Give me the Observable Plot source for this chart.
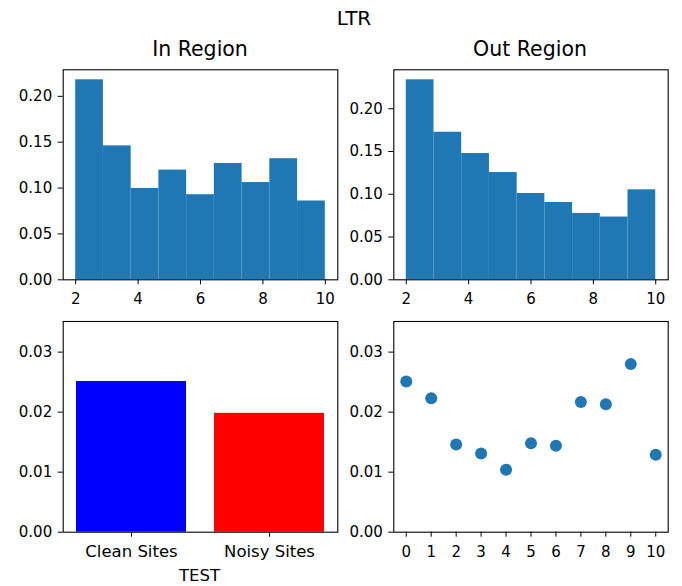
<!DOCTYPE html>
<html>
<head>
<meta charset="utf-8">
<script src="https://cdn.jsdelivr.net/npm/d3@7"></script>
<script src="https://cdn.jsdelivr.net/npm/@observablehq/plot@0.6"></script>
<style>
  html, body { margin: 0; padding: 0; background: #fff; }
  #fig { position: relative; width: 682px; height: 586px; background: #fff; overflow: hidden;
         font-family: "DejaVu Sans", sans-serif; color: #000; }
  .panel { position: absolute; }
  .ttl { position: absolute; white-space: nowrap; transform: translateX(-50%); line-height: 1; }
</style>
</head>
<body>
<div id="fig"></div>
<script>
// ---- data ----
const supTitle = "LTR";
const panelTitles = ["In Region", "Out Region"];
const xAxisLabel = "TEST";

const binEdges = [2, 2.889, 3.778, 4.667, 5.556, 6.444, 7.333, 8.222, 9.111, 10];
const inRegion = [0.218, 0.146, 0.0996, 0.1196, 0.0927, 0.1268, 0.106, 0.132, 0.0859];
const outRegion = [0.2338, 0.1725, 0.1476, 0.1254, 0.1009, 0.0904, 0.0776, 0.0734, 0.1052];
const histTicksX = [2, 4, 6, 8, 10];
const histTicksY = [0, 0.05, 0.10, 0.15, 0.20];

const siteCategories = ["Clean Sites", "Noisy Sites"];
const siteValues = [0.0251, 0.0198];
const siteColors = ["blue", "red"];

const scatterX = [0, 1, 2, 3, 4, 5, 6, 7, 8, 9, 10];
const scatterY = [0.0251, 0.0223, 0.0146, 0.0131, 0.0104, 0.0148, 0.0144, 0.0217, 0.0213, 0.0280, 0.0129];
const bottomTicksY = [0, 0.01, 0.02, 0.03];

// ---- layout helpers ----
const fig = document.getElementById("fig");
const blue = "#1f77b4";
const fmt = d3.format(".2f");

function place(node, left, top) {
  node.classList.add("panel");
  node.style.left = left + "px";
  node.style.top = top + "px";
  fig.appendChild(node);
}
function title(text, cx, top, size) {
  const d = document.createElement("div");
  d.className = "ttl";
  d.textContent = text;
  d.style.left = cx + "px";
  d.style.top = top + "px";
  d.style.fontSize = size + "px";
  fig.appendChild(d);
}

const baseStyle = { fontFamily: "DejaVu Sans, sans-serif", fontSize: "15px", color: "#000", background: "transparent", overflow: "visible" };

function hist(values, yMax, mLeft, mRight) {
  const rows = values.map((v, i) => ({ x1: binEdges[i], x2: binEdges[i + 1], y: v }));
  return Plot.plot({
    width: 341, height: 250,
    marginLeft: mLeft, marginRight: mRight, marginTop: 9.3, marginBottom: 30.7,
    style: baseStyle,
    x: { domain: [1.6, 10.4], ticks: histTicksX, tickSize: 5, tickPadding: 9, label: null },
    y: { domain: [0, yMax], ticks: histTicksY, tickFormat: fmt, tickSize: 5, tickPadding: 6, label: null },
    marks: [
      Plot.rectY(rows, { x1: "x1", x2: "x2", y: "y", fill: blue, inset: 0 }),
      Plot.frame({ stroke: "#000", strokeWidth: 1.1 })
    ]
  });
}

// top-left
place(hist(inRegion, 0.2289, 62.7, 3.7), 0, 60);
// top-right
place(hist(outRegion, 0.2455, 52.3, 14.3), 341, 60);

// bottom-left bars
const barRows = siteCategories.map((c, i) => ({ cat: c, v: siteValues[i], col: siteColors[i] }));
const bars = Plot.plot({
  width: 341, height: 250,
  marginLeft: 62.7, marginRight: 3.7, marginTop: 10, marginBottom: 29.3,
  style: baseStyle,
  x: { type: "band", domain: siteCategories, paddingInner: 0.2, paddingOuter: 0.09, align: 0.5,
       tickSize: 5, tickPadding: 8, label: null },
  y: { domain: [0, 0.0351], ticks: bottomTicksY, tickFormat: fmt, tickSize: 5, tickPadding: 6, label: null },
  marks: [
    Plot.barY(barRows, { x: "cat", y: "v", fill: d => d.col }),
    Plot.frame({ stroke: "#000", strokeWidth: 1.1 })
  ]
});
place(bars, 0, 311);
bars.querySelectorAll('[aria-label^="x-axis"] text').forEach(t => t.setAttribute("font-size", "16.5"));

// bottom-right scatter
const ptRows = scatterX.map((x, i) => ({ x, y: scatterY[i] }));
const sc = Plot.plot({
  width: 341, height: 250,
  marginLeft: 52.3, marginRight: 14.3, marginTop: 10, marginBottom: 29.3,
  style: baseStyle,
  x: { domain: [-0.5, 10.5], ticks: scatterX, tickFormat: d3.format("d"), tickSize: 5, tickPadding: 9, label: null },
  y: { domain: [0, 0.0351], ticks: bottomTicksY, tickFormat: fmt, tickSize: 5, tickPadding: 6, label: null },
  marks: [
    Plot.dot(ptRows, { x: "x", y: "y", r: 6, fill: blue, stroke: null }),
    Plot.frame({ stroke: "#000", strokeWidth: 1.1 })
  ]
});
place(sc, 341, 311);

// titles
title(supTitle, 354, 7.5, 20);
title(panelTitles[0], 200, 38.5, 20.5);
title(panelTitles[1], 530, 38.5, 20.5);
title(xAxisLabel, 199.5, 567.5, 16.5);
</script>
</body>
</html>
